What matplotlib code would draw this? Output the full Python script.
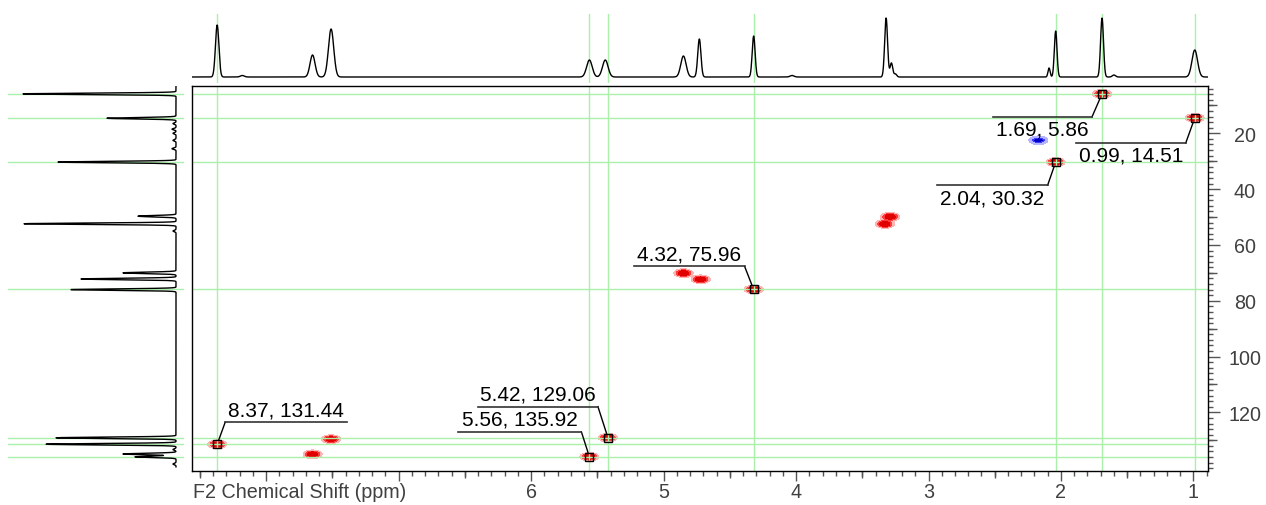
"""HSQC-style 2D map with 1H (top) and 13C (left) projections."""

import numpy as np
import matplotlib
matplotlib.use('Agg')
import matplotlib.pyplot as plt
from matplotlib.ticker import MultipleLocator, FuncFormatter
from matplotlib.transforms import IdentityTransform

plt.rcParams['font.family'] = ['Liberation Sans', 'DejaVu Sans']

# 1H projection (top trace): shift ppm, height, width
h_shift = [8.37, 8.18, 7.65, 7.51, 5.56, 5.44, 4.85, 4.73, 4.32, 4.03,
           3.32, 3.28, 3.25, 2.09, 2.04, 1.69, 1.60, 0.99]
h_height = [52, 1.5, 22, 48, 17, 17, 21, 38, 41, 1.5,
            59, 14, 3, 9, 46, 59, 2, 27]
h_width = [0.013, 0.015, 0.019, 0.02, 0.021, 0.021, 0.02, 0.012, 0.011, 0.015,
           0.011, 0.01, 0.01, 0.008, 0.01, 0.011, 0.012, 0.021]

# 13C projection (left trace): shift ppm, height
c_shift = [5.86, 14.6, 16.5, 18.5, 20.0, 22.5, 25.5, 30.3, 49.7, 52.4, 55.0,
           70.0, 72.2, 76.0, 129.1, 131.4, 133.3, 134.9, 135.9, 138.5]
c_height = [153, 69, 3, 4, 3, 3, 4, 118, 38, 152, 3,
            53, 95, 105, 120, 130, 3, 53, 41, 3]

# cross peaks (F2 1H, F1 13C, phase)
pk_h = [8.37, 7.65, 7.51, 5.56, 5.42, 4.85, 4.72, 4.32, 3.33, 3.29,
        2.04, 2.17, 1.69, 0.99]
pk_c = [131.44, 135.0, 129.6, 135.92, 129.06, 70.1, 72.3, 75.96, 52.5, 49.9,
        30.32, 22.5, 5.86, 14.51]
pk_sign = [1, 1, 1, 1, 1, 1, 1, 1, 1, 1, 1, -1, 1, 1]

# picked peaks with labels
lab_h = [8.37, 5.42, 5.56, 4.32, 1.69, 0.99, 2.04]
lab_c = [131.44, 129.06, 135.92, 75.96, 5.86, 14.51, 30.32]
# leader layout in pixels: elbow offset and underline length
lab_dx = [8, -10, -8, -9, -10, -9, -8]
lab_dy = [22, 31, 25, 23, -23, -25, -23]
lab_len = [122, -120, -123, -111, -99, -110, -111]

W, H = 1266, 506
X0, X1 = 8.56, 0.89
Y0, Y1 = 141.0, 3.05
GREEN = '#aaf0aa'
TXT = '#404040'
FS_TICK = 14.2
FS_LAB = 15


def main():
    fig = plt.figure(figsize=(W / 100, H / 100), dpi=100)
    L, R, T, B = 192, 1208, 87, 472
    ax = fig.add_axes([L / W, 1 - B / H, (R - L) / W, (B - T) / H])
    axt = fig.add_axes([L / W, 1 - 84 / H, (R - L) / W, 69 / H])
    axl = fig.add_axes([8 / W, 1 - B / H, 176 / W, (B - T) / H])

    # 2D contours
    gx = np.linspace(X1, X0, 1500)
    gy = np.linspace(Y1, Y0, 700)
    GX, GY = np.meshgrid(gx, gy)
    Z = np.zeros_like(GX)
    for h, c, s in zip(pk_h, pk_c, pk_sign):
        Z += s * np.exp(-0.5 * ((GX - h) / 0.035) ** 2
                        - 0.5 * ((GY - c) / 0.75) ** 2)
    ax.contourf(GX, GY, Z, levels=[0.12, 0.3, 0.55, 2],
                colors=['#ffb4b4', '#ff3c3c', '#e00000'], zorder=1)
    ax.contourf(GX, GY, Z, levels=[-2, -0.55, -0.3, -0.12],
                colors=['#0000c8', '#3a3aff', '#b4b4ff'], zorder=1)

    for h in lab_h:
        ax.axvline(h, color=GREEN, lw=1, zorder=2)
        axt.axvline(h, color=GREEN, lw=1, zorder=1)
    for c in lab_c:
        ax.axhline(c, color=GREEN, lw=1, zorder=2)
        axl.axhline(c, color=GREEN, lw=1, zorder=1)

    ax.plot(lab_h, lab_c, 's', ms=6.3, mfc='none', mec='k', mew=1, zorder=4)

    ax.set_xlim(X0, X1)
    ax.set_ylim(Y0, Y1)
    for sp in ax.spines.values():
        sp.set_color('k')
        sp.set_linewidth(1)

    # x ticks
    ax.xaxis.set_major_locator(MultipleLocator(1))
    ax.xaxis.set_minor_locator(MultipleLocator(0.1))
    ax.xaxis.set_major_formatter(
        FuncFormatter(lambda v, _: '' if v > 6.5 else f'{v:.0f}'))
    ax.tick_params(axis='x', which='major', direction='out', length=7.2,
                   width=1, color='#555555', labelsize=FS_TICK,
                   labelcolor=TXT, pad=1)
    ax.tick_params(axis='x', which='minor', direction='out', length=3.6,
                   width=1, color='#555555')
    secx = ax.secondary_xaxis('bottom')
    secx.set_xticks(np.arange(1.5, 8.6, 1.0))
    secx.tick_params(length=5, width=1, color='#555555', labelbottom=False)
    secx.spines['bottom'].set_visible(False)

    # y ticks on the right
    ax.yaxis.tick_right()
    ax.set_yticks([20, 40, 60, 80, 100, 120])
    ax.yaxis.set_minor_locator(MultipleLocator(2))
    ax.tick_params(axis='y', which='major', direction='out', length=8.6,
                   width=1, color='#555555', labelsize=FS_TICK,
                   labelcolor=TXT, pad=18)
    ax.tick_params(axis='y', which='minor', direction='out', length=3.6,
                   width=1, color='#555555')
    plt.setp(ax.get_yticklabels(), ha='center')
    secy = ax.secondary_yaxis('right')
    secy.set_yticks(np.arange(10, 141, 20))
    secy.tick_params(length=6.5, width=1, color='#555555', labelright=False)
    secy.spines['right'].set_visible(False)

    fig.text(193 / W, 1 - 493 / H, 'F2 Chemical Shift (ppm)', fontsize=FS_TICK,
             color=TXT, ha='left', va='center')

    # top 1H trace
    xs = np.linspace(X0, X1, 5000)
    ys = np.zeros_like(xs)
    for p, a, w in zip(h_shift, h_height, h_width):
        ys += a * np.exp(-0.5 * ((xs - p) / w) ** 2)
    axt.plot(xs, ys, color='k', lw=1, zorder=2)
    axt.set_xlim(X0, X1)
    axt.set_ylim(-6, 63)
    axt.axis('off')

    # left 13C trace
    cy = np.linspace(2.8, 139.5, 6000)
    cx = np.zeros_like(cy)
    for p, a in zip(c_shift, c_height):
        cx += a * np.exp(-0.5 * ((cy - p) / 0.25) ** 2)
    axl.plot(cx, cy, color='k', lw=1, zorder=2)
    axl.set_xlim(168, -8)
    axl.set_ylim(Y0, Y1)
    axl.axis('off')

    # labels with leaders (pixel layout)
    ident = IdentityTransform()
    for h, c, dx, dy, ln in zip(lab_h, lab_c, lab_dx, lab_dy, lab_len):
        px, py = ax.transData.transform((h, c))
        sgn = 1 if dy > 0 else -1
        sx, sy = px + dx * 4.5 / abs(dy), py + sgn * 4.5
        ex, ey = px + dx, py + dy
        ax.plot([sx, ex], [sy, ey], color='k', lw=1, transform=ident,
                zorder=5)
        ax.plot([ex, ex + ln], [ey, ey], color='#333333', lw=1.2,
                transform=ident, zorder=5)
        ty = ey + 7 if dy > 0 else ey - 18
        ax.text(ex + ln / 2, ty, f'{h:.2f}, {c:.2f}', transform=ident,
                ha='center', va='baseline', fontsize=FS_LAB, color='k',
                zorder=6)

    fig.savefig('out.png', dpi=100)


if __name__ == '__main__':
    main()
